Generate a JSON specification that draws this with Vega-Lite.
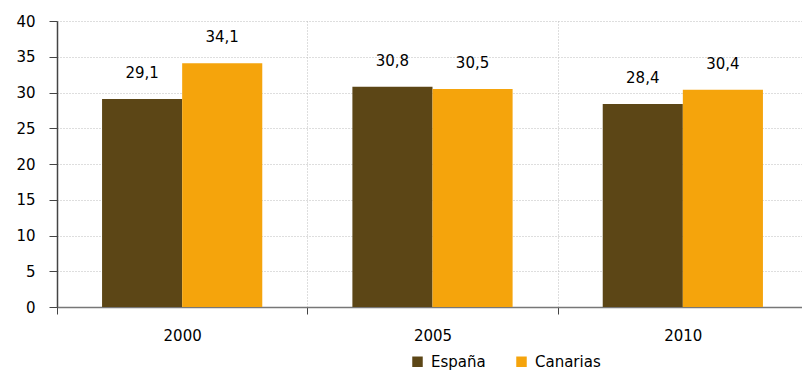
{
  "$schema": "https://vega.github.io/schema/vega-lite/v6.json",
  "width": 751,
  "height": 286,
  "autosize": {"type": "none"},
  "padding": {"left": 57, "top": 21, "right": 0, "bottom": 64},
  "background": "white",
  "config": {
    "view": {"stroke": null},
    "font": "DejaVu Sans",
    "locale": {"number": {"decimal": ",", "thousands": ".", "grouping": [3], "currency": ["", " €"]}}
  },
  "data": {
    "values": [
      {"year": "2000", "region": "España", "value": 29.1},
      {"year": "2000", "region": "Canarias", "value": 34.1},
      {"year": "2005", "region": "España", "value": 30.8},
      {"year": "2005", "region": "Canarias", "value": 30.5},
      {"year": "2010", "region": "España", "value": 28.4},
      {"year": "2010", "region": "Canarias", "value": 30.4}
    ]
  },
  "encoding": {
    "x": {
      "field": "year", "type": "nominal",
      "scale": {"paddingInner": 0, "paddingOuter": 0},
      "axis": {
        "title": null, "labelAngle": 0, "labelFontSize": 15, "labelColor": "#000",
        "tickBand": "extent", "grid": true, "gridDash": [1, 2], "gridColor": "#bdbdbd",
        "domainColor": "#777", "domainWidth": 1.5, "tickColor": "#444", "tickSize": 7,
        "labelPadding": 14
      }
    },
    "xOffset": {
      "field": "region", "type": "nominal", "sort": ["España", "Canarias"],
      "scale": {"paddingInner": 0, "paddingOuter": 0.5625}
    },
    "y": {
      "field": "value", "type": "quantitative",
      "scale": {"domain": [0, 40]},
      "axis": {
        "title": null, "values": [0, 5, 10, 15, 20, 25, 30, 35, 40],
        "labelFontSize": 15, "labelColor": "#000", "gridDash": [1, 2], "gridColor": "#bdbdbd",
        "domainColor": "#444", "domainWidth": 1.5, "tickColor": "#444", "tickSize": 8,
        "labelPadding": 14
      }
    }
  },
  "layer": [
    {
      "mark": {"type": "bar"},
      "encoding": {
        "color": {
          "field": "region", "type": "nominal",
          "sort": ["España", "Canarias"],
          "scale": {"domain": ["España", "Canarias"], "range": ["#5c4616", "#f5a40c"]},
          "legend": {
            "title": null, "orient": "none", "direction": "horizontal",
            "legendX": 353, "legendY": 333,
            "symbolType": "square", "symbolSize": 110, "symbolStrokeWidth": 0,
            "labelFontSize": 15, "labelColor": "#000", "columnPadding": 28, "labelOffset": 6
          }
        }
      }
    },
    {
      "mark": {"type": "text", "dy": -18, "baseline": "bottom", "fontSize": 15, "color": "#000"},
      "encoding": {
        "text": {"field": "value", "type": "quantitative", "format": ".1f"}
      }
    }
  ]
}
